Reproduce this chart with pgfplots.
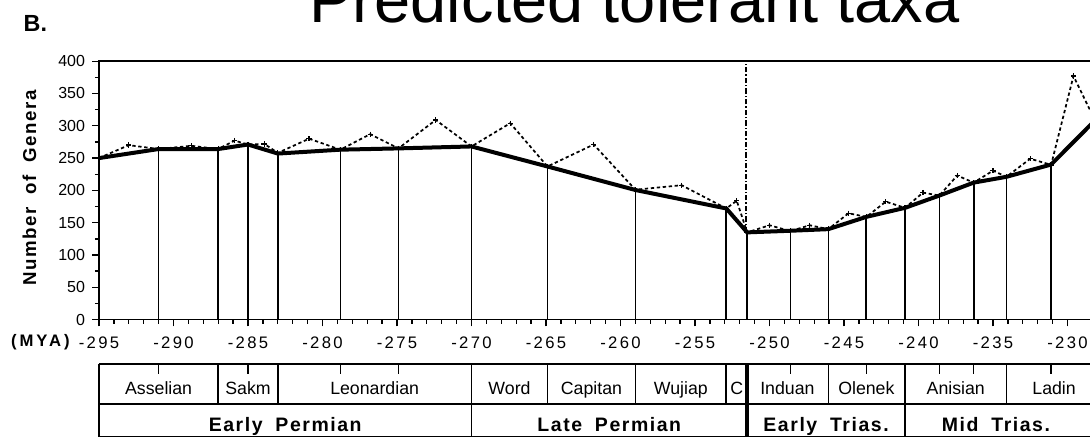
\documentclass[border=0pt]{standalone}
\usepackage{fontspec}
\setmainfont{Liberation Sans}
\newfontfamily\tickfont[LetterSpace=14]{Liberation Sans}
\newfontfamily\myafont[LetterSpace=18]{Liberation Sans}
\newfontfamily\epochfont[LetterSpace=8]{Liberation Sans}
\usepackage{pgfplots}
\pgfplotsset{compat=1.18}

% solid line: predicted tolerant genera at each interval boundary
\pgfplotstableread{
x       y
-295    250
-291    264
-287    264
-285    271
-283    257
-278.8  263
-274.9  265
-270    268
-264.9  237
-259    200.6
-252.9  172
-251.5  135
-248.6  137.5
-246.05 140
-243.5  159
-240.9  173
-238.6  192
-236.3  212
-234.1  221
-231.1  240
-228    312
}\solidtab

% dotted line: including mid-interval values
\pgfplotstableread{
x       y
-295    250
-293    270
-291    264
-288.8  269
-287    264
-285.9  277
-285    271
-283.9  272
-283    258
-280.9  280
-278.8  263
-276.8  287
-274.9  265
-272.4  309
-270    268
-267.4  304
-264.9  237
-261.8  271
-259    201
-255.9  208
-252.9  172
-252.2  184
-251.5  135
-250    146
-248.6  137
-247.3  146
-246.05 140
-244.7  164.5
-243.5  159
-242.2  182.5
-240.9  173
-239.7  196.5
-238.6  192
-237.4  223
-236.3  212
-235    230.5
-234.1  221
-232.5  249
-231.1  239.5
-229.6  377
-228    301
}\dottab

\begin{document}
\begin{tikzpicture}
\begin{axis}[
  scale only axis,
  width=748.7pt, height=193.8pt,
  xmin=-295, xmax=-228, ymin=0, ymax=400,
  clip=false,
  axis line style={line width=1.2pt},
  xtick={-295,-290,...,-230},
  xticklabels={-295,-290,-285,-280,-275,-270,-265,-260,-255,-250,-245,-240,-235,-230},
  minor x tick num=4,
  ytick={0,50,...,400},
  minor y tick num=1,
  xtick pos=bottom, ytick pos=left,
  tick align=outside,
  major tick length=5pt, minor tick length=3pt,
  tick style={black, line width=1pt},
  xticklabel style={font=\tickfont\fontsize{12.5}{13}\selectfont, anchor=base, yshift=-16.5pt},
  yticklabel style={font=\fontsize{12}{13}\selectfont, xshift=-2pt},
  /pgf/number format/assume math mode=true,
]
% vertical drops from each boundary
\addplot[ycomb, black, line width=1.3pt] table[x=x, y=y] {
x       y
-291    264
-287    264
-285    271
-283    257
-278.8  263
-274.9  265
-270    268
-264.9  237
-259    200.6
-252.9  172
-251.5  135
-248.6  137.5
-246.05 140
-243.5  159
-240.9  173
-238.6  192
-236.3  212
-234.1  221
-231.1  240
};
\addplot[black, line width=1.3pt, dash pattern=on 2.5pt off 2pt,
  mark=+, mark size=2pt, mark options={solid, line width=1pt}] table[x=x, y=y] {\dottab};
\addplot[black, line width=3pt, no markers] table[x=x, y=y] {\solidtab};

% P/T boundary
\draw[black, line width=1.4pt, dash pattern=on 4pt off 1.5pt on 1pt off 1.5pt]
  (axis cs:-251.6,135) -- (axis cs:-251.6,400);

% title and labels
\node[anchor=base, font=\fontsize{48.7}{50}\selectfont] at (axis cs:-259.06,459.6) {Predicted tolerant taxa};
\node[anchor=base west, font=\bfseries\fontsize{17.5}{18}\selectfont] at (axis cs:-300.37,445.2) {B.};
\node[anchor=base east, font=\myafont\bfseries\fontsize{12.5}{13}\selectfont, inner sep=0pt] at (axis cs:-296.95,-41.5) {(MYA)};
\node[rotate=90, font=\epochfont\bfseries\fontsize{14}{15}\selectfont] at (axis cs:-299.67,203.7) {Number\hspace{0.35em} of\hspace{0.35em} Genera};

% time scale
\draw[line width=1.2pt] (axis cs:-295,-68.3) -- (axis cs:-228,-68.3);
\draw[line width=1.2pt] (axis cs:-295,-130.65) -- (axis cs:-228,-130.65);
\draw[line width=1.2pt] (axis cs:-295,-181) -- (axis cs:-228,-181);
\draw[line width=1.2pt] (axis cs:-295,-68.3) -- (axis cs:-295,-181);
\pgfplotsinvokeforeach{-287,-283,-264.9,-259,-252.9,-246.05,-234.1}{
  \draw[line width=1.2pt] (axis cs:#1,-68.3) -- (axis cs:#1,-130.65);
}
\pgfplotsinvokeforeach{-270,-240.9}{
  \draw[line width=1.2pt] (axis cs:#1,-68.3) -- (axis cs:#1,-181);
}
\draw[line width=2.6pt] (axis cs:-251.5,-68.3) -- (axis cs:-251.5,-181);
\pgfplotsinvokeforeach{-291,-285,-278.8,-274.9,-248.6,-243.5,-238.6,-236.3,-231.1}{
  \draw[line width=1.1pt] (axis cs:#1,-68.3) -- (axis cs:#1,-84.6);
}
\begin{scope}[every node/.style={anchor=base, font=\fontsize{13.3}{14}\selectfont}]
\node at (axis cs:-291,-116) {Asselian};
\node at (axis cs:-285,-116) {Sakm};
\node at (axis cs:-276.5,-116) {Leonardian};
\node at (axis cs:-267.45,-116) {Word};
\node at (axis cs:-261.95,-116) {Capitan};
\node at (axis cs:-255.95,-116) {Wujiap};
\node at (axis cs:-252.2,-116) {C};
\node at (axis cs:-248.8,-116) {Induan};
\node at (axis cs:-243.5,-116) {Olenek};
\node at (axis cs:-237.5,-116) {Anisian};
\node at (axis cs:-230.9,-116) {Ladin};
\end{scope}
\begin{scope}[every node/.style={anchor=base, font=\epochfont\bfseries\fontsize{14.6}{15}\selectfont}]
\node at (axis cs:-282.5,-174) {Early\hspace{0.3em} Permian};
\node at (axis cs:-260.75,-174) {Late\hspace{0.3em} Permian};
\node at (axis cs:-246.2,-174) {Early\hspace{0.3em} Trias.};
\node at (axis cs:-234.8,-174) {Mid\hspace{0.3em} Trias.};
\end{scope}

\coordinate (bbA) at (axis cs:-301.644,-183.3);
\coordinate (bbB) at (axis cs:-228.49,494.7);
\end{axis}
\pgfresetboundingbox
\path[use as bounding box] (bbA) rectangle (bbB);
\end{tikzpicture}
\end{document}
